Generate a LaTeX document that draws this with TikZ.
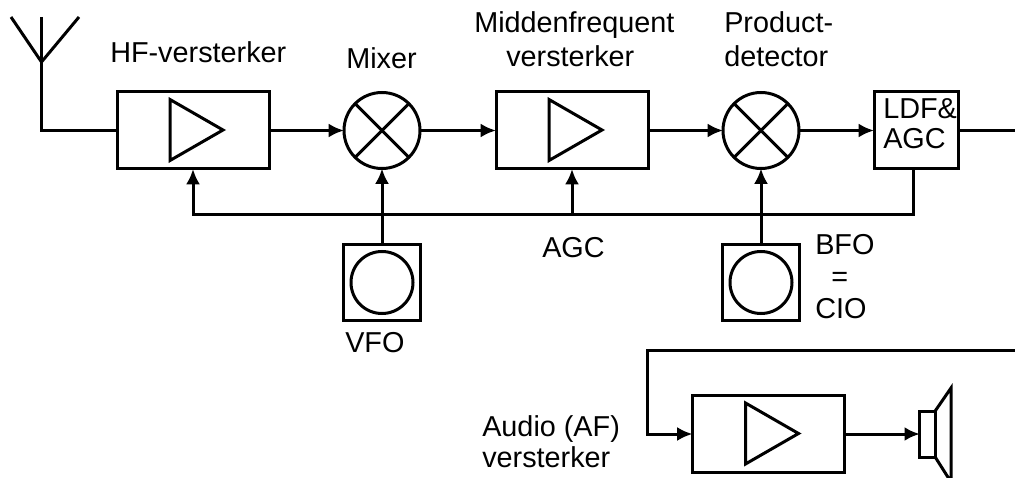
\documentclass[tikz,border=0pt]{standalone}
\usepackage{fontspec}
\setmainfont{Liberation Sans}
\usetikzlibrary{arrows.meta}
\tikzset{
  wire/.style={line width=2.25pt},
  sig/.style={wire,-{Latex[length=11.5pt,width=10.5pt]}},
  ampbox/.style={draw,wire,minimum width=114pt,minimum height=57.75pt,inner sep=0pt,outer sep=0pt},
  mixcirc/.style={draw,wire,circle,minimum size=57pt,inner sep=0pt,outer sep=0pt},
  oscbox/.style={draw,wire,minimum size=57.5pt,inner sep=0pt,outer sep=0pt},
  osccirc/.style={draw,wire,circle,minimum size=46.5pt,inner sep=0pt,outer sep=0pt},
  lbl/.style={inner sep=0pt,anchor=base west,align=left,font=\fontsize{21.6}{24}\selectfont},
}
\begin{document}
\begin{tikzpicture}[x=0.75pt,y=-0.75pt]
  \useasboundingbox (0,0) rectangle (1015,478);
  %%%%%%%%%%%%%The receiver chain%%%%%%%%%%%%%%%%%%%%%%
  \node[ampbox] (hfamp) at (193,130.5) {};
  \node[mixcirc] (mixer) at (382,130.5) {};
  \node[ampbox] (midamp) at (572,130.5) {};
  \node[mixcirc] (proddet) at (761,130.5) {};
  \node[ampbox,minimum width=63pt] (ldfagc) at (916,130.5) {};
  \node[oscbox] (vfo) at (382,282.5) {};
  \node[osccirc] (vfocirc) at (382,282.5) {};
  \node[oscbox] (bfo) at (761,282.5) {};
  \node[osccirc] (bfocirc) at (761,282.5) {};
  %%%%%%%%%%%%%The audio part%%%%%%%%%%%%%%%%%%%%%%
  \node[ampbox] (afamp) at (768.5,434) {};
  \node[draw,wire,minimum width=11.5pt,minimum height=34.5pt,inner sep=0pt,outer sep=0pt] (spkbox) at (927.5,434) {};

  \coordinate (antleft) at (11,17);
  \coordinate (anttop) at (41.5,17);
  \coordinate (antright) at (79,17);
  \coordinate (antfoot) at (41.5,62);
  \coordinate (agcjoin) at (572,214);
  \coordinate (ldfout) at (1015,130.5);
  \coordinate (afin) at (1015,350);
  \coordinate (afcorner) at (647,350);
  \coordinate (conetop) at (951,388);
  \coordinate (conebot) at (951,482);

  %antenna
  \draw[wire] (antleft) -- (antfoot) -- (antright);
  \draw[wire] (anttop) -- (antfoot) |- (hfamp.west);

  %triangles and crosses
  \foreach \amp in {hfamp,midamp,afamp}
    \draw[wire,line join=miter] (\amp.center) ++(-23,-31) -- ++(0,61) -- ++(53,-30.5) -- cycle;
  \foreach \mix in {mixer,proddet} {
    \draw[wire] (\mix.45) -- (\mix.225);
    \draw[wire] (\mix.135) -- (\mix.315);
  }

  %signal path
  \draw[sig] (hfamp.east) -- (mixer.west);
  \draw[sig] (mixer.east) -- (midamp.west);
  \draw[sig] (midamp.east) -- (proddet.west);
  \draw[sig] (proddet.east) -- (ldfagc.west);
  \draw[wire] (ldfagc.east) -- (ldfout);
  \draw[sig] (vfo.north) -- (mixer.south);
  \draw[sig] (bfo.north) -- (proddet.south);
  \draw[sig] ([xshift=-2.25pt]ldfagc.south) |- (agcjoin) -| (hfamp.south);
  \draw[sig] (agcjoin) -- (midamp.south);
  \draw[sig] (afin) -- (afcorner) |- (afamp.west);
  \draw[sig] (afamp.east) -- (spkbox.west);
  \draw[wire,line join=miter] (spkbox.north east) -- (conetop) -- (conebot) -- (spkbox.south east);

  %labels
  \node[lbl] (hflabel) at (110,63) {HF-versterker};
  \node[lbl] (mixlabel) at (346,69) {Mixer};
  \node[lbl] (midlabel) at (474,67) {Middenfrequent\\[1.5pt]\hspace*{24pt}versterker};
  \node[lbl] (prodlabel) at (724,67) {Product-\\[1.5pt]detector};
  \node[lbl] (ldflabel) at (883,149) {LDF\&\\[-0.75pt]AGC};
  \node[lbl] (agclabel) at (542,257) {AGC};
  \node[lbl] (bfolabel) at (815,318) {BFO\\\hspace*{12pt}=\\CIO};
  \node[lbl] (vfolabel) at (345,352) {VFO};
  \node[lbl] (aflabel) at (482,467) {Audio (AF)\\[-0.75pt]versterker};
\end{tikzpicture}
\end{document}
